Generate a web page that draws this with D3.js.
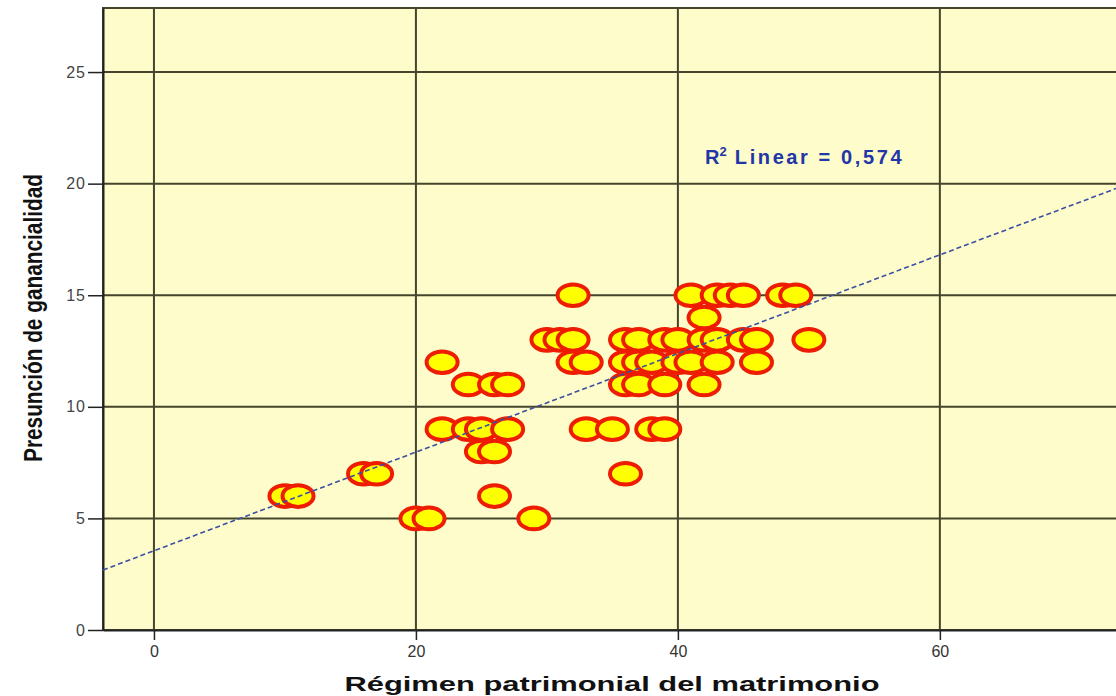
<!DOCTYPE html>
<html><head><meta charset="utf-8">
<script src="https://cdn.jsdelivr.net/npm/d3@7"></script>
<style>body{margin:0;background:#fff;}svg{display:block;}</style>
</head><body>
<svg id="c" width="1116" height="696"></svg>
<script>
// Data
const xVals = [32,41,43,44,45,48,49, 42, 30,31,32,36,37,39,40,42,43,45,46,50, 22,32,33,36,37,38,40,41,43,46, 24,26,27,36,37,39,42, 22,24,25,27,33,35,38,39, 25,26, 16,17,36, 10,11,26, 20,21,29];
const yVals = [15,15,15,15,15,15,15, 14, 13,13,13,13,13,13,13,13,13,13,13,13, 12,12,12,12,12,12,12,12,12,12, 11,11,11,11,11,11,11, 9,9,9,9,9,9,9,9, 8,8, 7,7,7, 6,6,6, 5,5,5];
const xTicks = [0,20,40,60];
const yTicks = [0,5,10,15,20,25];
const fitIntercept = 3.55;
const fitSlope = 0.221;
const r2Label = "0,574";
const xTitle = "Régimen patrimonial del matrimonio";
const yTitle = "Presunción de ganancialidad";

const svg = d3.select("#c");
const L = 103, R = 1118, T = 8, B = 630;
const x = d3.scaleLinear().domain([-3.89, 73.6]).range([L, R]);
const y = d3.scaleLinear().domain([0, 27.87]).range([B, T]);

const grid = "#45452c";
svg.append("rect").attr("x", L).attr("y", T).attr("width", R - L).attr("height", B - T)
  .attr("fill", "#fdfcca").attr("stroke", grid).attr("stroke-width", 2);

// grid lines
svg.append("g").selectAll("line").data(xTicks).join("line")
  .attr("x1", d => x(d)).attr("x2", d => x(d)).attr("y1", T).attr("y2", B)
  .attr("stroke", grid).attr("stroke-width", 2);
svg.append("g").selectAll("line").data(yTicks.filter(d => d > 0)).join("line")
  .attr("x1", L).attr("x2", R).attr("y1", d => y(d)).attr("y2", d => y(d))
  .attr("stroke", grid).attr("stroke-width", 2);

// axes
const xAxis = svg.append("g").attr("transform", `translate(0,${B})`)
  .call(d3.axisBottom(x).tickValues(xTicks).tickSize(10).tickPadding(6).tickSizeOuter(0));
xAxis.attr("font-size", null);
xAxis.select(".domain").attr("stroke", "#222").attr("stroke-width", 2);
xAxis.selectAll(".tick line").attr("stroke", "#222").attr("stroke-width", 1.5);
xAxis.selectAll(".tick text").style("font-family", "'Liberation Sans', Arial, sans-serif")
  .style("font-size", "16px").attr("fill", "#333");

const yAxis = svg.append("g").attr("transform", `translate(${L},0)`)
  .call(d3.axisLeft(y).tickValues(yTicks).tickSize(15).tickPadding(2).tickSizeOuter(0));
yAxis.attr("font-size", null);
yAxis.select(".domain").attr("stroke", "#222").attr("stroke-width", 2);
yAxis.selectAll(".tick line").attr("stroke", "#222").attr("stroke-width", 1.5);
yAxis.selectAll(".tick text").style("font-family", "'Liberation Sans', Arial, sans-serif")
  .style("font-size", "16px").attr("fill", "#444").attr("letter-spacing", 1);

// points
const pts = xVals.map((v, i) => ({x: v, y: yVals[i]}));
svg.append("g").selectAll("ellipse").data(pts).join("ellipse")
  .attr("cx", d => x(d.x)).attr("cy", d => y(d.y))
  .attr("rx", 15.5).attr("ry", 10.8)
  .attr("fill", "#ffff00").attr("stroke", "#ee1c00").attr("stroke-width", 4);

// fit line
svg.append("line")
  .attr("x1", L).attr("y1", y(fitIntercept + fitSlope * x.invert(L)))
  .attr("x2", R).attr("y2", y(fitIntercept + fitSlope * x.invert(R)))
  .attr("stroke", "#3b4fa3").attr("stroke-width", 1.6).attr("stroke-dasharray", "5,3");

// R2 label
const lab = svg.append("text").attr("x", 705).attr("y", 164)
  .attr("font-family", "'Liberation Sans', Arial, sans-serif").attr("font-weight", "bold")
  .attr("font-size", 20).attr("fill", "#2236a8");
lab.append("tspan").text("R");
lab.append("tspan").attr("font-size", 13).attr("dy", -8).text("2");
lab.append("tspan").attr("dy", 8).attr("letter-spacing", 2.6).text(" Linear = " + r2Label);

// titles
svg.append("text").attr("x", 612).attr("y", 691).attr("text-anchor", "middle")
  .attr("font-family", "'Liberation Sans', Arial, sans-serif").attr("font-weight", "bold")
  .attr("font-size", 21).attr("fill", "#111")
  .attr("textLength", 535).attr("lengthAdjust", "spacingAndGlyphs").text(xTitle);
svg.append("text").attr("transform", "translate(42,318) rotate(-90)").attr("text-anchor", "middle")
  .attr("font-family", "'Liberation Sans Narrow', 'Arial Narrow', 'Liberation Sans', sans-serif").attr("font-weight", "bold")
  .attr("font-size", 25).attr("fill", "#111")
  .attr("textLength", 288).attr("lengthAdjust", "spacingAndGlyphs").text(yTitle);
</script>
</body></html>
